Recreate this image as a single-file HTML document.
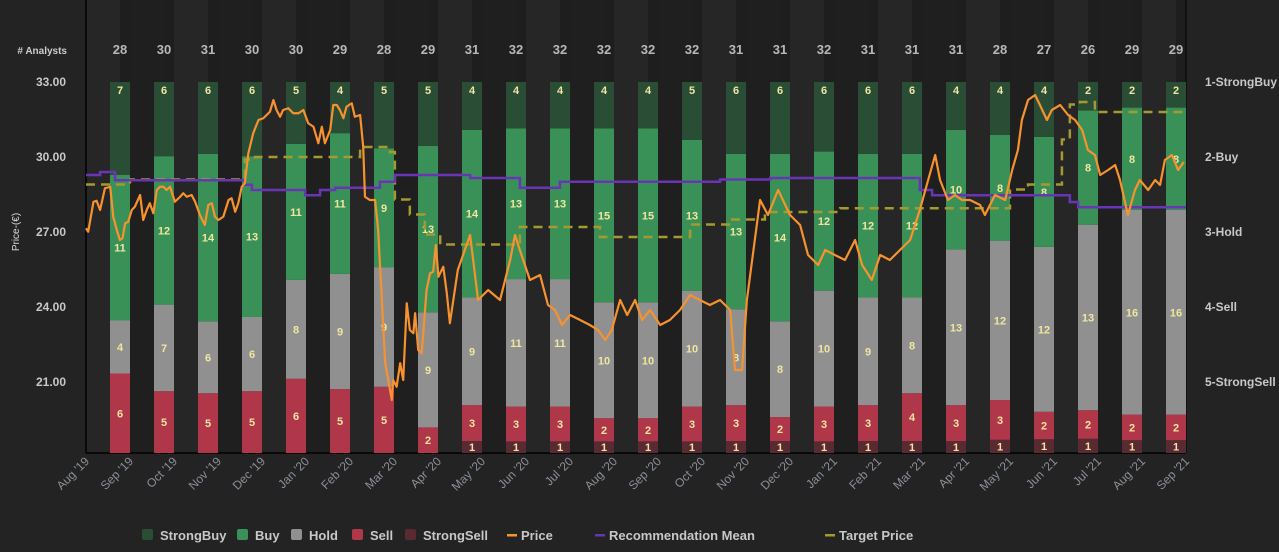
<!DOCTYPE html>
<html><head><meta charset="utf-8">
<style>
html,body{margin:0;padding:0;background:#232323;}
svg{display:block;font-family:"Liberation Sans",sans-serif;}
</style></head>
<body>
<svg id="chart" width="1279" height="552" xmlns="http://www.w3.org/2000/svg"></svg>
<script>
const months=["Aug '19","Sep '19","Oct '19","Nov '19","Dec '19","Jan '20","Feb '20","Mar '20","Apr '20","May '20","Jun '20","Jul '20","Aug '20","Sep '20","Oct '20","Nov '20","Dec '20","Jan '21","Feb '21","Mar '21","Apr '21","May '21","Jun '21","Jul '21","Aug '21","Sep '21"];
const totals=[28,30,31,30,30,29,28,29,31,32,32,32,32,32,31,31,32,31,31,31,28,27,26,29,29];
const strongBuy=[7,6,6,6,5,4,5,5,4,4,4,4,4,5,6,6,6,6,6,4,4,4,2,2,2];
const buy=[11,12,14,13,11,11,9,13,14,13,13,15,15,13,13,14,12,12,12,10,8,8,8,8,8];
const hold=[4,7,6,6,8,9,9,9,9,11,11,10,10,10,8,8,10,9,8,13,12,12,13,16,16];
const sell=[6,5,5,5,6,5,5,2,3,3,3,2,2,3,3,2,3,3,4,3,3,2,2,2,2];
const strongSell=[0,0,0,0,0,0,0,0,1,1,1,1,1,1,1,1,1,1,1,1,1,1,1,1,1];
const priceTicks=[33,30,27,24,21];
const recTicks=["1-StrongBuy","2-Buy","3-Hold","4-Sell","5-StrongSell"];
// price series (time in months since Aug '19)
const priceT=[0,0.05,0.17,0.24,0.32,0.43,0.55,0.62,0.70,0.77,0.83,0.89,0.96,1.04,1.11,1.23,1.30,1.38,1.45,1.53,1.61,1.68,1.76,1.83,1.91,2.02,2.14,2.21,2.29,2.40,2.48,2.59,2.70,2.78,2.86,2.93,3.01,3.12,3.24,3.31,3.39,3.46,3.54,3.61,3.69,3.80,3.92,4.03,4.18,4.26,4.33,4.41,4.48,4.60,4.71,4.83,4.94,5.05,5.17,5.28,5.36,5.43,5.55,5.62,5.70,5.77,5.85,5.92,6.04,6.11,6.23,6.30,6.34,6.45,6.57,6.64,6.72,6.80,6.87,6.95,6.98,7.06,7.14,7.21,7.29,7.36,7.44,7.48,7.55,7.63,7.74,7.82,7.89,7.95,8.01,8.12,8.20,8.27,
8.45,8.73,8.91,9.14,9.41,9.64,9.75,9.86,10.09,10.32,10.5,10.66,10.82,11.0,11.23,11.45,11.64,11.80,11.95,12.14,12.30,12.48,12.64,12.82,13.05,13.27,13.5,13.73,13.95,14.18,14.41,14.64,14.75,14.91,15.02,15.14,15.32,15.5,15.73,16.0,16.23,16.41,16.64,16.8,17.02,17.25,17.48,17.64,17.86,18.05,18.27,18.5,18.73,18.95,19.14,19.3,19.41,19.59,19.75,19.91,20.09,20.32,20.43,20.66,20.89,21.05,21.18,21.27,21.41,21.57,21.68,21.84,21.95,22.14,22.32,22.48,22.64,22.77,22.93,23.05,23.23,23.39,23.5,23.68,23.84,23.95,24.14,24.3,24.41,24.52,24.68,24.82,24.95];
const priceV=[27.15,27.01,28.21,28.25,27.88,28.75,28.81,27.61,27.08,26.68,26.75,27.35,27.41,27.88,28.01,28.48,27.48,27.88,28.15,27.75,28.68,28.81,28.81,28.68,28.81,28.21,28.41,28.55,28.41,28.48,28.21,27.68,27.28,28.08,28.15,27.61,27.48,27.61,28.28,28.35,27.81,28.15,28.81,28.95,30.15,30.95,31.48,31.55,31.81,32.28,31.88,31.61,31.88,31.95,31.75,31.75,31.88,31.35,31.21,30.55,31.21,30.55,31.08,32.08,32.08,31.88,31.55,32.01,32.15,31.61,31.68,30.41,28.41,28.28,28.28,27.08,24.41,21.75,21.08,20.28,21.08,20.81,21.75,21.08,24.15,23.08,22.95,23.75,22.28,22.15,24.68,25.35,25.41,26.48,25.21,25.61,24.55,23.35,
25.48,26.88,24.28,24.68,24.28,25.88,26.88,26.28,25.08,25.28,24.08,23.88,23.28,23.68,23.48,23.28,23.08,22.68,23.08,24.28,23.68,24.28,23.48,23.88,23.28,23.48,23.88,24.48,24.28,24.08,24.28,23.88,21.48,21.48,24.28,25.88,28.28,27.68,28.68,27.68,27.28,26.08,25.68,26.28,26.08,25.88,26.68,25.68,25.08,26.08,25.88,26.28,26.68,27.88,29.08,30.08,29.08,28.28,28.48,28.28,28.28,28.08,27.68,28.48,28.28,29.48,30.28,31.48,32.28,32.48,32.08,31.48,31.88,32.08,31.68,31.48,31.08,30.28,30.08,29.28,29.48,29.68,29.08,27.68,28.68,29.08,28.68,29.08,28.88,29.88,30.08,29.48,29.8];
// recommendation mean (steps)
const recT=[0,0.32,0.66,3.61,3.77,4.98,5.32,5.66,6.68,7.02,8.73,9.86,10.77,14.41,15.55,18.95,19.23,22.36,22.55,25];
const recV=[2.24,2.2,2.31,2.37,2.44,2.51,2.44,2.41,2.33,2.24,2.28,2.41,2.33,2.3,2.28,2.44,2.51,2.6,2.67,2.67];
// target price (steps)
const tgtT=[0,1.0,3.61,3.84,6.23,6.91,7.02,7.36,7.70,8.05,9.86,11.68,13.73,14.64,15.43,17.14,21.0,21.41,22.18,22.36,22.59,22.93,25];
const tgtV=[28.9,29.1,29.9,30.0,30.4,30.2,28.3,27.7,26.9,26.5,27.2,26.8,27.3,27.5,27.8,27.95,28.7,28.9,30.7,32.1,32.2,31.8,31.8];

const svg=document.getElementById('chart');
const NS='http://www.w3.org/2000/svg';
function mk(tag,attrs,parent){const e=document.createElementNS(NS,tag);for(const k in attrs)e.setAttribute(k,attrs[k]);(parent||svg).appendChild(e);return e;}
const L=86,R=1186,T=0,B=453,BAR_TOP=82;
const mw=(R-L)/25;
const xM=t=>L+t*mw;
const yP=p=>82+(33-p)*25;
const yR=r=>82+(r-1)*75;

for(let i=0;i<25;i++){
  const b=mk('rect',{x:xM(i),y:T,width:mw,height:B-T,fill:i%2?'#1f1f1f':'#262626'});
  
  
}
for(let i=0;i<25;i++){
  const b=mk('rect',{x:xM(i)+34,y:T,width:mw-34,height:B-T,fill:'#1e1e1e'});
  
  
}
mk('line',{x1:L,y1:T,x2:L,y2:B,stroke:'#000','stroke-width':1.5});
mk('line',{x1:L,y1:B,x2:R,y2:B,stroke:'#000','stroke-width':1.5});
mk('line',{x1:R,y1:T,x2:R,y2:B,stroke:'#000','stroke-width':1});

const cats=[[strongSell,'#5a2a33','strong-sell'],[sell,'#b0364a','sell'],[hold,'#909090','hold'],[buy,'#3a9158','buy'],[strongBuy,'#2a4d35','strong-buy']];
const H=B-BAR_TOP;
for(let i=0;i<25;i++){
  const cx=L+34+i*mw;
  let y=B;
  for(const [arr,col,nm] of cats){
    const v=arr[i]; if(!v) continue;
    const h=v/totals[i]*H;
    const r=mk('rect',{x:cx-10,y:y-h,width:20,height:h,fill:col});
    
    
    const ty=nm==='strong-buy'?(y-h+12):(y-h/2+4);
    const t=mk('text',{x:cx,y:ty,'text-anchor':'middle','font-size':11,'font-weight':'bold',fill:'#f0e6a0'});
    t.textContent=v;
    
    
    y-=h;
  }
  const tt=mk('text',{x:cx,y:54,'text-anchor':'middle','font-size':13,'font-weight':'bold',fill:'#b8b8b8'});
  tt.textContent=totals[i];
  
  
}
const al=mk('text',{x:67,y:54,'text-anchor':'end','font-size':10,'font-weight':'bold',fill:'#cccccc'});
al.textContent='# Analysts';



function path(ts,vs,yf,step){const n=Math.min(ts.length,vs.length);let d='';for(let i=0;i<n;i++){const x=xM(ts[i]),y=yf(vs[i]);if(i===0)d='M'+x+' '+y;else{if(step)d+=' L'+x+' '+yf(vs[i-1]);d+=' L'+x+' '+y;}}return d;}
const tp=mk('path',{d:path(tgtT,tgtV,yP,true),fill:'none',stroke:'#a59a2f','stroke-width':2.5,'stroke-dasharray':'9,6'});


const rm=mk('path',{d:path(recT,recV,yR,true),fill:'none',stroke:'#6a35b5','stroke-width':2.5});


const pl=mk('path',{d:path(priceT,priceV,yP,false),fill:'none',stroke:'#f7922e','stroke-width':2.2,'stroke-linejoin':'round'});



priceTicks.forEach(p=>{
  const t=mk('text',{x:66,y:yP(p)+4,'text-anchor':'end','font-size':12,'font-weight':'bold',fill:'#c8c8c8'});
  t.textContent=p.toFixed(2);
  
  
});
recTicks.forEach((r,i)=>{
  const t=mk('text',{x:1205,y:yR(i+1)+4,'font-size':12,'font-weight':'bold',fill:'#c8c8c8'});
  t.textContent=r;
  
  
});
const yt=mk('text',{x:0,y:0,'font-size':10,fill:'#dddddd','text-anchor':'middle',transform:'translate(19,232) rotate(-90)'});
yt.textContent='Price-(€)';


months.forEach((m,i)=>{
  const x=xM(i);
  const t=mk('text',{x:0,y:0,'font-size':12,fill:'#8a8f99','text-anchor':'end',transform:`translate(${x+4},${462}) rotate(-45)`});
  t.textContent=m;
  
  
});

const leg=[['StrongBuy','#2a4d35','box',142],['Buy','#3a9158','box',237],['Hold','#909090','box',291],['Sell','#b0364a','box',352],['StrongSell','#5a2a33','box',405],['Price','#f7922e','line',507],['Recommendation Mean','#6a35b5','line',595],['Target Price','#a59a2f','line',825]];
leg.forEach(([n,c,k,x])=>{
  const g=mk('g',{});
  
  
  if(k==='box')mk('rect',{x:x,y:529,width:11,height:11,rx:2,fill:c},g);
  else mk('rect',{x:x,y:534,width:10,height:2.5,fill:c},g);
  const t=mk('text',{x:x+(k==='box'?18:14),y:540,'font-size':13,'font-weight':'bold',fill:'#c8c8c8'},g);
  t.textContent=n;
});
</script>
</body></html>
